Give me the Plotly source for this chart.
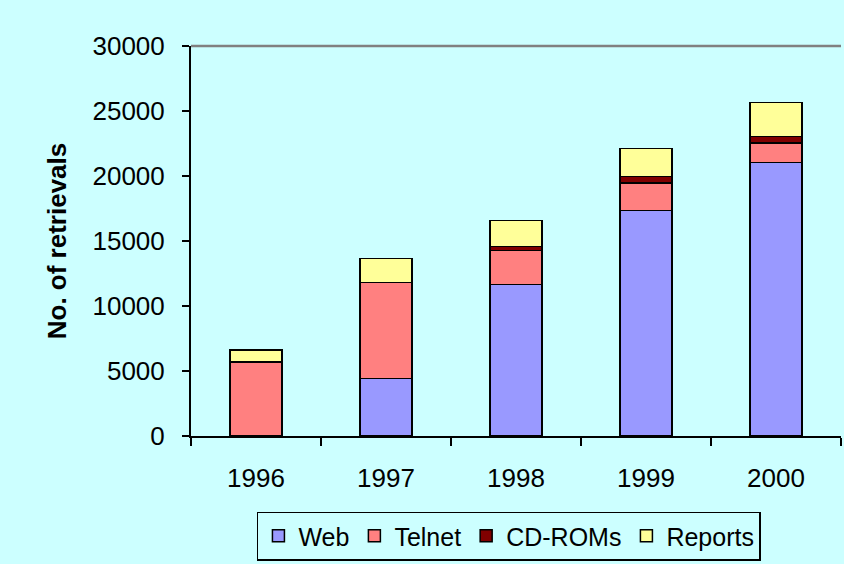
import plotly.graph_objects as go

years = ["1996", "1997", "1998", "1999", "2000"]
web = [0, 4430, 11650, 17360, 21040]
telnet = [5680, 7370, 2610, 2120, 1510]
cdroms = [0, 0, 300, 490, 490]
reports = [920, 1870, 2020, 2150, 2610]

series = [
    ("Web", web, "#9999FF"),
    ("Telnet", telnet, "#FF8080"),
    ("CD-ROMs", cdroms, "#800000"),
    ("Reports", reports, "#FFFF99"),
]

BG = "#CCFFFF"
FONT = "Liberation Sans, Arial, sans-serif"

fig = go.Figure()
for name, vals, color in series:
    fig.add_trace(go.Bar(
        x=years, y=vals, name=name,
        marker=dict(color=color, line=dict(color="black", width=1.5)),
    ))

fig.update_layout(
    barmode="stack",
    bargap=0.6,
    width=844, height=564,
    margin=dict(l=191, r=3, t=46, b=128, autoexpand=False),
    paper_bgcolor=BG, plot_bgcolor=BG,
    font=dict(family=FONT, size=26, color="black"),
    legend=dict(
        orientation="h", traceorder="normal",
        xref="container", yref="container",
        x=0.603, xanchor="center", y=0.006, yanchor="bottom",
        bgcolor=BG, bordercolor="black", borderwidth=1.5,
        font=dict(size=25), itemwidth=30,
    ),
    showlegend=True,
)

fig.update_yaxes(
    range=[0, 30000], dtick=5000, tickformat="d",
    showgrid=False, zeroline=False, automargin=False,
    showline=True, linecolor="black", linewidth=2,
    ticks="outside", ticklen=7, tickwidth=2, tickcolor="black",
    ticklabelstandoff=12,
    title=dict(text="<b>No. of retrievals</b>", font=dict(size=26), standoff=18),
)
fig.update_xaxes(
    showgrid=False, showline=True, linecolor="black", linewidth=2,
    automargin=False,
    ticks="outside", ticklen=8, tickwidth=2, tickcolor="black",
    tickson="boundaries", ticklabelstandoff=18,
)

fig.add_shape(type="line", xref="x domain", yref="y domain",
              x0=0, x1=1, y0=1, y1=1, line=dict(color="#808080", width=2.5))

fig.write_html("out.html", config={"displayModeBar": False},
               post_script="document.body.style.margin='0';")
